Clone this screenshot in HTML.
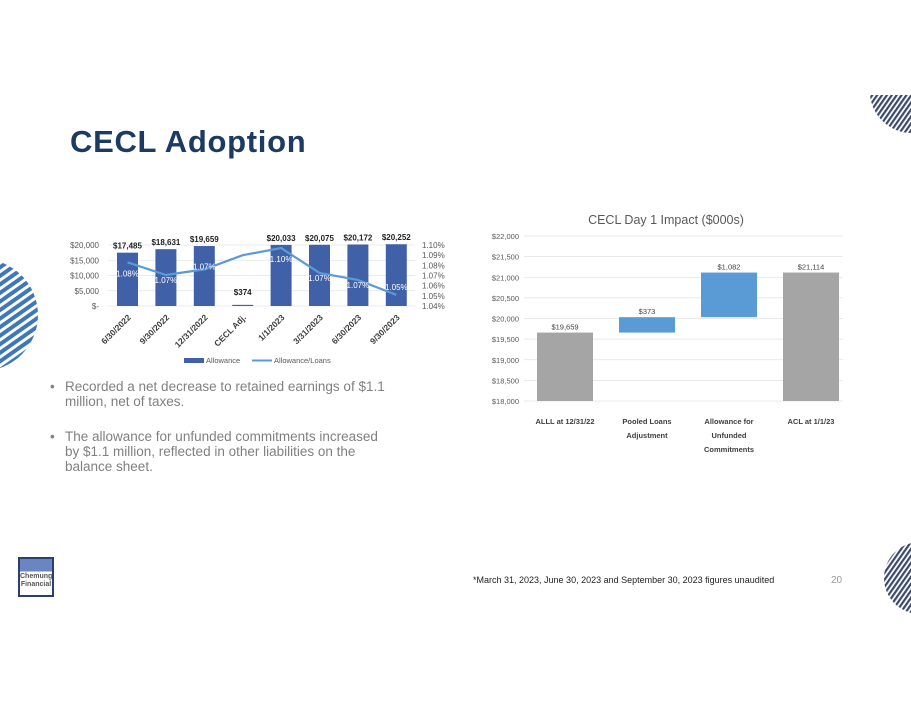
<!DOCTYPE html>
<html><head><meta charset="utf-8"><style>
body{margin:0;width:911px;height:704px;background:#fff;position:relative;overflow:hidden;font-family:"Liberation Sans",sans-serif}
.abs{position:absolute}
.bul{position:absolute;left:50px;font-size:13.5px;color:#808080;line-height:15px;width:420px;white-space:nowrap}
</style></head><body>
<div class="abs" style="left:70px;top:124px;font-size:31px;font-weight:bold;color:#1d3a63;letter-spacing:0.7px">CECL Adoption</div>

<svg class="abs" style="left:0;top:0" width="911" height="704">
<defs>
<pattern id="st1" width="7" height="7" patternUnits="userSpaceOnUse" patternTransform="rotate(-35)"><rect width="7" height="4" fill="#3f78b8"/></pattern>
<pattern id="st2" width="4" height="4" patternUnits="userSpaceOnUse" patternTransform="rotate(-55)"><rect width="4" height="2.2" fill="#3b4a6b"/></pattern>
</defs>
<circle cx="-18" cy="315" r="56" fill="url(#st1)"/>
<path d="M870 95 L911 95 L911 133 A42 42 0 0 1 870 95 Z" fill="url(#st2)"/>
<circle cx="920" cy="578" r="36" fill="url(#st2)"/>
</svg>

<svg id="c1" class="abs" style="left:0;top:0" width="911" height="704"></svg>
<svg id="c2" class="abs" style="left:0;top:0" width="911" height="704"></svg>

<div class="bul" style="top:379px"><span style="position:absolute;left:0">•</span><div style="margin-left:15px">Recorded a net decrease to retained earnings of $1.1<br>million, net of taxes.</div></div>
<div class="bul" style="top:429px"><span style="position:absolute;left:0">•</span><div style="margin-left:15px">The allowance for unfunded commitments increased<br>by $1.1 million, reflected in other liabilities on the<br>balance sheet.</div></div>

<div class="abs" style="left:18px;top:557px;width:36px;height:40px;border:2px solid #2c3e6b;background:linear-gradient(#6a86c2 0 35%,#fff 35%);font-size:7px;font-weight:bold;color:#555;text-align:center;line-height:8px;padding-top:14px;box-sizing:border-box">Chemung<br>Financial</div>
<div class="abs" style="left:473px;top:575px;font-size:9px;color:#222">*March 31, 2023, June 30, 2023 and September 30, 2023 figures unaudited</div>
<div class="abs" style="left:831px;top:575px;font-size:10px;color:#999">20</div>

<script>
const cats1=["6/30/2022","9/30/2022","12/31/2022","CECL Adj.","1/1/2023","3/31/2023","6/30/2023","9/30/2023"];
const allowance=[17485,18631,19659,374,20033,20075,20172,20252];
const ratio=[1.083,1.0705,1.076,1.090,1.097,1.0725,1.0656,1.051];
const ratioLabels=["1.08%","1.07%","1.07%","","1.10%","1.07%","1.07%","1.05%"];
const leftTicks=[0,5000,10000,15000,20000];
const leftTickLabels=["$-","$5,000","$10,000","$15,000","$20,000"];
const rightTicks=[1.04,1.05,1.06,1.07,1.08,1.09,1.10];

const cats2=["ALLL at 12/31/22","Pooled Loans|Adjustment","Allowance for|Unfunded|Commitments","ACL at 1/1/23"];
const wfBase=[18000,19659,20032,18000];
const wfTop=[19659,20032,21114,21114];
const wfLabels=["$19,659","$373","$1,082","$21,114"];
const wfTypes=["total","delta","delta","total"];
const ticks2=[18000,18500,19000,19500,20000,20500,21000,21500,22000];

const NS="http://www.w3.org/2000/svg";
function mk(svg,tag,attrs,text){const e=document.createElementNS(NS,tag);for(const k in attrs)e.setAttribute(k,attrs[k]);if(text!==undefined)e.textContent=text;svg.appendChild(e);return e;}
function fmt(v){return "$"+v.toLocaleString("en-US");}

// chart 1
const s1=document.getElementById('c1');
const y1=v=>306-v/20000*61;
const yr=v=>306-(v-1.04)/0.06*61;
const x1=i=>127.5+i*38.4;
leftTicks.forEach((t,i)=>{
 const l=mk(s1,'line',{x1:108,x2:415,y1:y1(t),y2:y1(t),stroke:'#e4e4e4','stroke-width':0.8});
 
 const tx=mk(s1,'text',{x:99,y:y1(t)+3,'text-anchor':'end','font-size':8,fill:'#595959'},leftTickLabels[i]);
 
});
rightTicks.forEach(t=>{
 const tx=mk(s1,'text',{x:422,y:yr(t)+3,'font-size':8,fill:'#595959'},t.toFixed(2)+"%");
 
});
allowance.forEach((v,i)=>{
 const r=mk(s1,'rect',{x:x1(i)-10.5,y:y1(v),width:21,height:306-y1(v),fill:'#4060a8'});
 
 const t=mk(s1,'text',{x:x1(i),y:y1(v)-(i==3?10:4),'text-anchor':'middle','font-size':8,'font-weight':'bold',fill:'#222'},fmt(v));
 
 const c=mk(s1,'text',{x:x1(i)+4,y:318,'text-anchor':'end','font-size':8.5,'font-weight':'bold',fill:'#404040',transform:`rotate(-45 ${x1(i)+4} 318)`},cats1[i]);
 
});
const pl=mk(s1,'polyline',{points:ratio.map((v,i)=>x1(i)+','+yr(v)).join(' '),fill:'none',stroke:'#5b9bd5','stroke-width':2.2});

ratio.forEach((v,i)=>{if(!ratioLabels[i])return;
 const t=mk(s1,'text',{x:x1(i),y:yr(v)+(i==0||i==4?14:i==7?-5:i==2?0:8),'text-anchor':'middle','font-size':8,fill:'#fff'},ratioLabels[i]);
 
});
let g=mk(s1,'rect',{x:184,y:358,width:20,height:5,fill:'#4060a8'});
g=mk(s1,'text',{x:206,y:363,'font-size':7.5,fill:'#595959'},'Allowance');
g=mk(s1,'line',{x1:252,x2:272,y1:360.5,y2:360.5,stroke:'#5b9bd5','stroke-width':2});
g=mk(s1,'text',{x:274,y:363,'font-size':7.5,fill:'#595959'},'Allowance/Loans');

// chart 2
const s2=document.getElementById('c2');
const y2=v=>401-(v-18000)/4000*165;
const x2=i=>565+i*82;
g=mk(s2,'text',{x:666,y:224,'text-anchor':'middle','font-size':12.5,fill:'#595959'},'CECL Day 1 Impact ($000s)');
ticks2.forEach(t=>{
 const l=mk(s2,'line',{x1:524,x2:843,y1:y2(t),y2:y2(t),stroke:'#e2e2e2','stroke-width':0.8});
 
 const tx=mk(s2,'text',{x:519,y:y2(t)+3,'text-anchor':'end','font-size':7.5,fill:'#595959'},fmt(t));
 
});
wfTop.forEach((v,i)=>{
 const col=wfTypes[i]=='total'?'#a5a5a5':'#5b9bd5';
 const r=mk(s2,'rect',{x:x2(i)-28,y:y2(v),width:56,height:y2(wfBase[i])-y2(v),fill:col});
 
 const t=mk(s2,'text',{x:x2(i),y:y2(v)-3,'text-anchor':'middle','font-size':7.5,fill:'#404040'},wfLabels[i]);
 
 cats2[i].split('|').forEach((ln,j)=>{
  const c=mk(s2,'text',{x:x2(i),y:424+j*14,'text-anchor':'middle','font-size':7.5,'font-weight':'bold',fill:'#404040'},ln);
  
 });
});
</script>
</body></html>
